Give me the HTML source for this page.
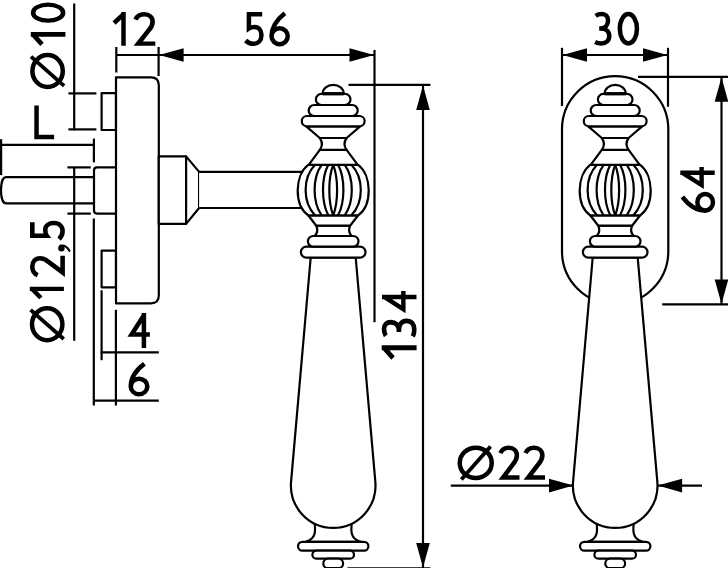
<!DOCTYPE html><html><head><meta charset="utf-8"><style>html,body{margin:0;padding:0;background:#fff;width:728px;height:568px;overflow:hidden}svg{display:block;filter:grayscale(100%)}.t{font-family:"Liberation Sans",sans-serif;font-size:48px;fill:#000;stroke:#000;stroke-width:0.5px}</style></head><body>
<svg width="728" height="568" viewBox="0 0 728 568">
<g fill="#fff" stroke="#000" stroke-width="2.2" stroke-linejoin="round">
<path d="M 94,177.2 L 6,177.2 C 2.6,177.2 1,183.5 1,190.3 C 1,197.1 2.6,203.4 6,203.4 L 94,203.4" fill="none"/>
<path d="M 116,167.4 L 97,167.4 Q 94,167.4 94,170.4 L 94,210.6 Q 94,213.6 97,213.6 L 116,213.6" fill="none"/>
<rect x="101.6" y="93.2" width="14.4" height="36.8"/>
<rect x="101.6" y="250.6" width="14.4" height="36.7"/>
<path d="M 116,303.4 L 116,77.3 L 151,77.3 Q 158.8,77.3 158.8,85.1 L 158.8,295.6 Q 158.8,303.4 151,303.4 Z"/>
<path d="M 158.8,156.4 L 186.1,156.4 L 186.1,223.9 L 158.8,223.9 Z"/>
<path d="M 186.1,156.4 L 199.1,171.9 L 199.1,208 L 186.1,223.9 Z"/>
<path d="M 199.1,171.9 L 305,171.9 L 305,208 L 199.1,208" />
<g transform="translate(333.2,0)">
<path d="M -19,520 C -17.5,530 -16.5,538.5 -27.5,541.8 L 27.5,541.8 C 16.5,538.5 17.5,530 19,520 Z"/>
<path d="M -22.5,257.5 L -42.14,481.94 A 42.3,42.3 0 1 0 42.14,481.94 L 22.5,257.5 Z"/>
<rect x="-35.20" y="541.80" width="70.40" height="8.90" rx="4.45" ry="4.45"/>
<rect x="-20.80" y="550.70" width="41.60" height="8.00" rx="4.00" ry="4.00"/>
<rect x="-9.90" y="558.70" width="19.80" height="9.50" rx="4.75" ry="4.75"/>
<rect x="-32.30" y="246.70" width="64.60" height="10.90" rx="5.45" ry="5.45"/>
<rect x="-25.30" y="236.00" width="50.60" height="10.70" rx="5.35" ry="5.35"/>
<path d="M -16.9,225.7 C -15.6,229 -15.4,233 -18.5,236 L 18.5,236 C 15.4,233 15.6,229 16.9,225.7 Z"/>
<path d="M -25,215.3 L -16.9,225.7 L 16.9,225.7 L 25,215.3 Z"/>
<path d="M -25,164.8 C -38.5,175 -39.5,205 -25,215.3 L 25,215.3 C 39.5,205 38.5,175 25,164.8 Z"/>
<path d="M -18.2,164.8 C -30.73,178 -30.73,202 -18.2,215.3" fill="none"/>
<path d="M 18.2,164.8 C 30.73,178 30.73,202 18.2,215.3" fill="none"/>
<path d="M -11.6,164.8 C -20.93,178 -20.93,202 -11.6,215.3" fill="none"/>
<path d="M 11.6,164.8 C 20.93,178 20.93,202 11.6,215.3" fill="none"/>
<path d="M -4.9,164.8 C -11.97,178 -11.97,202 -4.9,215.3" fill="none"/>
<path d="M 4.9,164.8 C 11.97,178 11.97,202 4.9,215.3" fill="none"/>
<path d="M 0,164.8 C -5.20,178 -5.20,202 0,215.3" fill="none"/>
<path d="M 0,164.8 C 5.20,178 5.20,202 0,215.3" fill="none"/>
<path d="M -13.4,149.8 L -24.5,164.8 L 24.5,164.8 L 13.4,149.8 Z"/>
<path d="M -13.4,138 C -10.6,142 -10.6,146 -13.4,149.8 L 13.4,149.8 C 10.6,146 10.6,142 13.4,138 Z"/>
<path d="M -27,126.3 L -13.4,138 L 13.4,138 L 27,126.3 Z"/>
<rect x="-31.40" y="116.00" width="62.80" height="10.30" rx="5.15" ry="5.15"/>
<rect x="-24.50" y="105.00" width="49.00" height="11.00" rx="5.50" ry="5.50"/>
<rect x="-17.30" y="93.90" width="34.60" height="11.10" rx="5.55" ry="5.55"/>
<path d="M -10.5,93.3 A 10.5,8.5 0 0 1 10.5,93.3 Z"/>
<line x1="-10.5" y1="93.8" x2="10.5" y2="93.8" stroke-width="3.2"/>
</g>
<line x1="74.2" y1="3.5" x2="74.2" y2="130.3"/>
<line x1="68.4" y1="93.4" x2="96.4" y2="93.4"/>
<line x1="68.4" y1="129.4" x2="96.4" y2="129.4"/>
<line x1="0" y1="144.9" x2="93.9" y2="144.9"/>
<line x1="1.1" y1="139.2" x2="1.1" y2="175.1"/>
<line x1="93.9" y1="138.6" x2="93.9" y2="162.4"/>
<line x1="67.4" y1="167.4" x2="90.8" y2="167.4"/>
<line x1="67.4" y1="213.6" x2="90.8" y2="213.6"/>
<line x1="74.2" y1="167.4" x2="74.2" y2="340.8"/>
<line x1="93.8" y1="218.5" x2="93.8" y2="405.5"/>
<line x1="101.6" y1="290.3" x2="101.6" y2="360.2"/>
<line x1="115.9" y1="309.8" x2="115.9" y2="405.5"/>
<line x1="100.6" y1="352.4" x2="158.8" y2="352.4"/>
<line x1="93" y1="400.6" x2="158.8" y2="400.6"/>
<line x1="116.3" y1="47" x2="116.3" y2="72.5"/>
<line x1="158.6" y1="47" x2="158.6" y2="76"/>
<line x1="116.3" y1="55" x2="375" y2="55"/>
<polygon points="159.1,55.0 183.6,48.2 183.6,61.8" fill="#000" stroke="none"/>
<polygon points="374.0,55.0 349.5,48.2 349.5,61.8" fill="#000" stroke="none"/>
<line x1="374.5" y1="50" x2="374.5" y2="322.3"/>
<line x1="348.5" y1="84.9" x2="430.4" y2="84.9"/>
<line x1="347.5" y1="568.4" x2="430.4" y2="568.4"/>
<line x1="423" y1="84.9" x2="423" y2="568"/>
<polygon points="423.0,85.4 416.2,109.9 429.8,109.9" fill="#000" stroke="none"/>
<polygon points="423.0,567.5 416.2,543.0 429.8,543.0" fill="#000" stroke="none"/>
<path d="M 562,129.3 A 53.15,53.15 0 0 1 668.3,129.3 L 668.3,251.2 A 53.15,53.15 0 0 1 562,251.2 Z"/>
<g transform="translate(615.2,0)">
<path d="M -19,520 C -17.5,530 -16.5,538.5 -27.5,541.8 L 27.5,541.8 C 16.5,538.5 17.5,530 19,520 Z"/>
<path d="M -22.5,257.5 L -42.14,481.94 A 42.3,42.3 0 1 0 42.14,481.94 L 22.5,257.5 Z"/>
<rect x="-35.20" y="541.80" width="70.40" height="8.90" rx="4.45" ry="4.45"/>
<rect x="-20.80" y="550.70" width="41.60" height="8.00" rx="4.00" ry="4.00"/>
<rect x="-9.90" y="558.70" width="19.80" height="9.50" rx="4.75" ry="4.75"/>
<rect x="-32.30" y="246.70" width="64.60" height="10.90" rx="5.45" ry="5.45"/>
<rect x="-25.30" y="236.00" width="50.60" height="10.70" rx="5.35" ry="5.35"/>
<path d="M -16.9,225.7 C -15.6,229 -15.4,233 -18.5,236 L 18.5,236 C 15.4,233 15.6,229 16.9,225.7 Z"/>
<path d="M -25,215.3 L -16.9,225.7 L 16.9,225.7 L 25,215.3 Z"/>
<path d="M -25,164.8 C -38.5,175 -39.5,205 -25,215.3 L 25,215.3 C 39.5,205 38.5,175 25,164.8 Z"/>
<path d="M -18.2,164.8 C -30.73,178 -30.73,202 -18.2,215.3" fill="none"/>
<path d="M 18.2,164.8 C 30.73,178 30.73,202 18.2,215.3" fill="none"/>
<path d="M -11.6,164.8 C -20.93,178 -20.93,202 -11.6,215.3" fill="none"/>
<path d="M 11.6,164.8 C 20.93,178 20.93,202 11.6,215.3" fill="none"/>
<path d="M -4.9,164.8 C -11.97,178 -11.97,202 -4.9,215.3" fill="none"/>
<path d="M 4.9,164.8 C 11.97,178 11.97,202 4.9,215.3" fill="none"/>
<path d="M 0,164.8 C -5.20,178 -5.20,202 0,215.3" fill="none"/>
<path d="M 0,164.8 C 5.20,178 5.20,202 0,215.3" fill="none"/>
<path d="M -13.4,149.8 L -24.5,164.8 L 24.5,164.8 L 13.4,149.8 Z"/>
<path d="M -13.4,138 C -10.6,142 -10.6,146 -13.4,149.8 L 13.4,149.8 C 10.6,146 10.6,142 13.4,138 Z"/>
<path d="M -27,126.3 L -13.4,138 L 13.4,138 L 27,126.3 Z"/>
<rect x="-31.40" y="116.00" width="62.80" height="10.30" rx="5.15" ry="5.15"/>
<rect x="-24.50" y="105.00" width="49.00" height="11.00" rx="5.50" ry="5.50"/>
<rect x="-17.30" y="93.90" width="34.60" height="11.10" rx="5.55" ry="5.55"/>
<path d="M -10.5,93.3 A 10.5,8.5 0 0 1 10.5,93.3 Z"/>
<line x1="-10.5" y1="93.8" x2="10.5" y2="93.8" stroke-width="3.2"/>
</g>
<line x1="562" y1="47.8" x2="562" y2="106"/>
<line x1="668" y1="47.8" x2="668" y2="106.8"/>
<line x1="562" y1="55" x2="668" y2="55"/>
<polygon points="562.5,55.0 587.0,48.2 587.0,61.8" fill="#000" stroke="none"/>
<polygon points="667.5,55.0 643.0,48.2 643.0,61.8" fill="#000" stroke="none"/>
<line x1="638" y1="76.8" x2="728" y2="76.8"/>
<line x1="662.2" y1="304.4" x2="728" y2="304.4"/>
<line x1="721.5" y1="76.8" x2="721.5" y2="304.4"/>
<polygon points="721.5,77.3 714.7,101.8 728.3,101.8" fill="#000" stroke="none"/>
<polygon points="721.5,303.9 714.7,279.4 728.3,279.4" fill="#000" stroke="none"/>
<line x1="450.8" y1="485.6" x2="573.5" y2="485.6"/>
<polygon points="573.5,485.6 549.0,478.8 549.0,492.4" fill="#000" stroke="none"/>
<line x1="657.6" y1="485.6" x2="702" y2="485.6"/>
<polygon points="657.6,485.6 682.1,478.8 682.1,492.4" fill="#000" stroke="none"/>
</g>
<g fill="none" stroke="#000" stroke-width="4.5" stroke-linejoin="miter" stroke-miterlimit="6">
<path transform="translate(112.50,12.10) scale(1.0000,1.0000)" d="M 11,0 L 11,33.6 M 11.6,1.6 L 1.6,10.9"/>
<path transform="translate(133.50,12.10) scale(1.0332,0.9825)" d="M 2.0,7.6 C 3.6,3.7 6.8,2.25 10.3,2.25 C 15.2,2.25 18.5,5.3 18.5,9.8 C 18.5,13 17.2,15.6 15,18.2 L 4.6,32.05 L 21.1,32.05"/>
<path transform="translate(244.10,12.10) scale(1.0000,1.0000)" d="M 18.1,2.25 L 4.8,2.25 L 4.8,16.4 C 6.5,15.2 8.5,14.85 10.5,14.85 C 14.8,14.85 17.35,18.5 17.35,23.2 C 17.35,28.5 14,31.75 9.5,31.75 C 6.5,31.75 3.8,30.6 1.5,28.4"/>
<path transform="translate(269.30,11.70) scale(1.0000,1.0000)" d="M 15.6,1.5 C 8.5,7 2.25,14.5 2.25,24.55 M 2.25,24.55 A 8.1,7.9 0 1 0 18.45,24.55 A 8.1,7.9 0 1 0 2.25,24.55"/>
<path transform="translate(594.20,11.80) scale(1.0000,1.0000)" d="M 1.5,4 C 3.2,2.8 5.5,2.25 7.8,2.25 C 11.5,2.25 13.85,4.8 13.85,8.8 C 13.85,13.4 11,16.7 6.5,16.7 L 5,16.7 M 6.5,16.7 C 12,16.7 15.05,19.8 15.05,24.2 C 15.05,28.8 11.8,31.65 7.2,31.65 C 4.8,31.65 2.6,31.1 0.9,30.2"/>
<path transform="translate(617.60,11.80) scale(1.0000,1.0000)" d="M 2.25,16.95 A 8.55,14.7 0 1 0 19.35,16.95 A 8.55,14.7 0 1 0 2.25,16.95"/>
<path transform="translate(34.10,105.40) scale(1.0000,1.0000)" d="M 2.45,0 L 2.45,31.55 L 20,31.55"/>
<path transform="translate(127.00,313.00) scale(1.0000,1.0000)" d="M 16.9,34.9 L 16.9,0 M 16.9,2.2 L 4.6,21.6 L 22.9,21.6"/>
<path transform="translate(128.50,362.20) scale(1.0193,0.9885)" d="M 15.6,1.5 C 8.5,7 2.25,14.5 2.25,24.55 M 2.25,24.55 A 8.1,7.9 0 1 0 18.45,24.55 A 8.1,7.9 0 1 0 2.25,24.55"/>
<path transform="translate(498.40,445.50) scale(1.0000,1.0000)" d="M 2.0,7.6 C 3.6,3.7 6.8,2.25 10.3,2.25 C 15.2,2.25 18.5,5.3 18.5,9.8 C 18.5,13 17.2,15.6 15,18.2 L 4.6,32.05 L 21.1,32.05"/>
<path transform="translate(523.50,445.50) scale(1.0190,1.0000)" d="M 2.0,7.6 C 3.6,3.7 6.8,2.25 10.3,2.25 C 15.2,2.25 18.5,5.3 18.5,9.8 C 18.5,13 17.2,15.6 15,18.2 L 4.6,32.05 L 21.1,32.05"/>
<path transform="translate(381.70,359.70) rotate(-90) scale(1.0909,1.0387)" d="M 11,0 L 11,33.6 M 11.6,1.6 L 1.6,10.9"/>
<path transform="translate(381.70,337.40) rotate(-90) scale(1.0983,1.0295)" d="M 1.5,4 C 3.2,2.8 5.5,2.25 7.8,2.25 C 11.5,2.25 13.85,4.8 13.85,8.8 C 13.85,13.4 11,16.7 6.5,16.7 L 5,16.7 M 6.5,16.7 C 12,16.7 15.05,19.8 15.05,24.2 C 15.05,28.8 11.8,31.65 7.2,31.65 C 4.8,31.65 2.6,31.1 0.9,30.2"/>
<path transform="translate(382.00,313.80) rotate(-90) scale(1.0000,0.9885)" d="M 16.9,34.9 L 16.9,0 M 16.9,2.2 L 4.6,21.6 L 22.9,21.6"/>
<path transform="translate(680.30,189.60) rotate(-90) scale(0.9913,0.9857)" d="M 16.9,34.9 L 16.9,0 M 16.9,2.2 L 4.6,21.6 L 22.9,21.6"/>
<path transform="translate(680.90,212.90) rotate(-90) scale(1.0242,0.9885)" d="M 15.6,1.5 C 8.5,7 2.25,14.5 2.25,24.55 M 2.25,24.55 A 8.1,7.9 0 1 0 18.45,24.55 A 8.1,7.9 0 1 0 2.25,24.55"/>
<path transform="translate(30.80,46.00) rotate(-90) scale(1.0530,1.0298)" d="M 11,0 L 11,33.6 M 11.6,1.6 L 1.6,10.9"/>
<path transform="translate(30.80,22.80) rotate(-90) scale(0.9398,1.0206)" d="M 2.25,16.95 A 8.55,14.7 0 1 0 19.35,16.95 A 8.55,14.7 0 1 0 2.25,16.95"/>
<path transform="translate(29.80,299.40) rotate(-90) scale(0.9621,1.0149)" d="M 11,0 L 11,33.6 M 11.6,1.6 L 1.6,10.9"/>
<path transform="translate(30.00,277.10) rotate(-90) scale(1.0142,1.0175)" d="M 2.0,7.6 C 3.6,3.7 6.8,2.25 10.3,2.25 C 15.2,2.25 18.5,5.3 18.5,9.8 C 18.5,13 17.2,15.6 15,18.2 L 4.6,32.05 L 21.1,32.05"/>
<path transform="translate(30.00,240.60) rotate(-90) scale(1.0102,1.0265)" d="M 18.1,2.25 L 4.8,2.25 L 4.8,16.4 C 6.5,15.2 8.5,14.85 10.5,14.85 C 14.8,14.85 17.35,18.5 17.35,23.2 C 17.35,28.5 14,31.75 9.5,31.75 C 6.5,31.75 3.8,30.6 1.5,28.4"/>
</g>
<ellipse cx="61.4" cy="248.3" rx="3.2" ry="3.2" fill="#000"/>
<path d="M 60.5,245.6 C 64.5,245 67.5,247.2 69.4,250.8" fill="none" stroke="#000" stroke-width="2.2" stroke-linecap="round"/>
<ellipse cx="475.75" cy="462.9" rx="16.0" ry="15.2" fill="none" stroke="#000" stroke-width="4.5"/>
<line x1="461.35" y1="479.5" x2="490.55" y2="446.4" stroke="#000" stroke-width="3.8"/>
<ellipse cx="47.6" cy="71" rx="15.2" ry="16.0" fill="none" stroke="#000" stroke-width="4.5"/>
<line x1="31.0" y1="56.6" x2="64.1" y2="85.8" stroke="#000" stroke-width="3.8"/>
<ellipse cx="47.2" cy="324.2" rx="15.2" ry="16.0" fill="none" stroke="#000" stroke-width="4.5"/>
<line x1="30.6" y1="309.8" x2="63.7" y2="339.0" stroke="#000" stroke-width="3.8"/>
</svg></body></html>
